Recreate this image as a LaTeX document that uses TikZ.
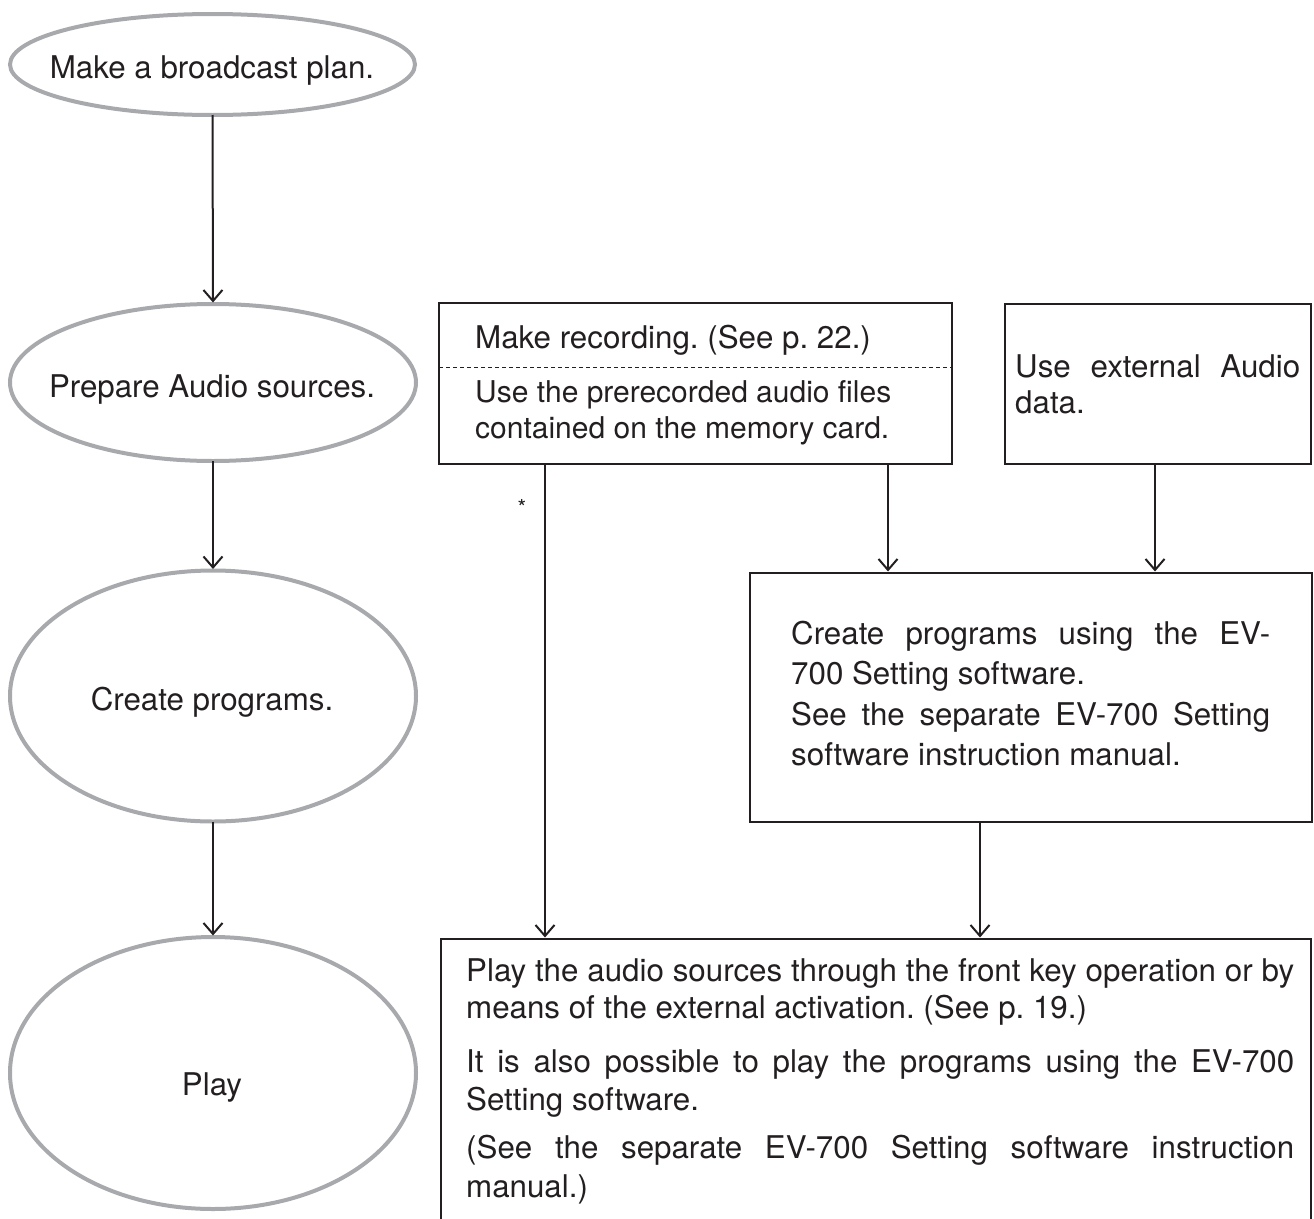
\documentclass[tikz,border=0pt]{standalone}
\usepackage{fontspec}
\setmainfont{TeX Gyre Heros}
\usetikzlibrary{arrows.meta,shapes.geometric}
\definecolor{ink}{HTML}{231F20}
\definecolor{ellgray}{HTML}{A7A9AC}
\frenchspacing
\begin{document}
\begin{tikzpicture}[x=1pt,y=-1pt,
  stage/.style={ellipse, draw=ellgray, line width=4pt, inner sep=0pt, outer sep=0pt},
  infobox/.style={rectangle, draw=ink, line width=2.5pt, inner sep=0pt, outer sep=0pt},
  txt/.style={font=\fontsize{31.3}{38}\selectfont, text=ink, inner sep=0pt},
  txtsmall/.style={font=\fontsize{30}{36}\selectfont, text=ink, inner sep=0pt},
  flow/.style={draw=ink, line width=2pt, shorten >=1.5pt, -{Straight Barb[length=11pt,width=19pt]}},
  sepline/.style={draw=ink, line width=1pt, dash pattern=on 4pt off 3pt}
]
\path[use as bounding box] (0,0) rectangle (1314,1218);
\clip (0,0) rectangle (1314,1218);

% left column: stages
\node[stage, minimum width=405pt, minimum height=101pt] (e1) at (212.5,64.5) {};
\node[stage, minimum width=406pt, minimum height=157pt] (e2) at (213,382.5) {};
\node[stage, minimum width=406pt, minimum height=251pt] (e3) at (213,696) {};
\node[stage, minimum width=406pt, minimum height=272pt] (e4) at (213,1073) {};
\node[txt, anchor=base] (t1) at (212,78) {Make a broadcast plan.};
\node[txt, anchor=base] (t2) at (212,397) {Prepare Audio sources.};
\node[txt, anchor=base] (t3) at (212,710) {Create programs.};
\node[txt, anchor=base] (t4) at (212,1095) {Play};

\draw[flow] (e1.south) -- (e2.north);
\draw[flow] (e2.south) -- (e3.north);
\draw[flow] (e3.south) -- (e4.north);

% right side boxes
\node[infobox, minimum width=513pt, minimum height=161pt] (boxA) at (695.5,383.5) {};
\node[infobox, minimum width=306pt, minimum height=160pt] (boxB) at (1158,384) {};
\node[infobox, minimum width=562pt, minimum height=249pt] (boxC) at (1031,697.5) {};
\node[infobox, minimum width=870pt, minimum height=420pt] (boxD) at (876,1149) {};

\coordinate (dashy) at (0,367);
\draw[sepline] (boxA.west |- dashy) -- (boxA.east |- dashy);

\node[txt, anchor=base west] (a1) at (475,348) {Make recording. (See p. 22.)};
\node[txtsmall, anchor=base west] (a2) at (475,402) {Use the prerecorded audio files};
\node[txtsmall, anchor=base west] (a3) at (475,438) {contained on the memory card.};

\node[txt, anchor=base west] (b1) at (1015,377) {\makebox[285pt][s]{Use external Audio}};
\node[txt, anchor=base west] (b2) at (1015,413) {data.};

\node[txt, anchor=base west] (c1) at (791,644) {\makebox[479pt][s]{Create programs using the EV-}};
\node[txt, anchor=base west] (c2) at (791,684.5) {700 Setting software.};
\node[txt, anchor=base west] (c3) at (791,725) {\makebox[479pt][s]{See the separate EV-700 Setting}};
\node[txt, anchor=base west] (c4) at (791,765) {software instruction manual.};

\node[txt, anchor=base west] (d1) at (466,981) {\makebox[828pt][s]{Play the audio sources through the front key operation or by}};
\node[txt, anchor=base west] (d2) at (466,1018) {means of the external activation. (See p. 19.)};
\node[txt, anchor=base west] (d3) at (466,1072) {\makebox[828pt][s]{It is also possible to play the programs using the EV-700}};
\node[txt, anchor=base west] (d4) at (466,1110) {Setting software.};
\node[txt, anchor=base west] (d5) at (466,1158) {\makebox[828pt][s]{(See the separate EV-700 Setting software instruction}};
\node[txt, anchor=base west] (d6) at (466,1197) {manual.)};

% connectors on the right
\coordinate (xa) at (888,0);
\coordinate (xb) at (1155,0);
\coordinate (xs) at (545,0);
\coordinate (xc) at (980,0);
\draw[flow] (boxA.south -| xa) -- (boxC.north -| xa);
\draw[flow] (boxB.south -| xb) -- (boxC.north -| xb);
\draw[flow] (boxA.south -| xs) -- (boxD.north -| xs);
\draw[flow] (boxC.south -| xc) -- (boxD.north -| xc);
\node[text=ink, font=\fontsize{22}{22}\selectfont, inner sep=0pt] (star) at (522,507) {*};
\end{tikzpicture}
\end{document}
